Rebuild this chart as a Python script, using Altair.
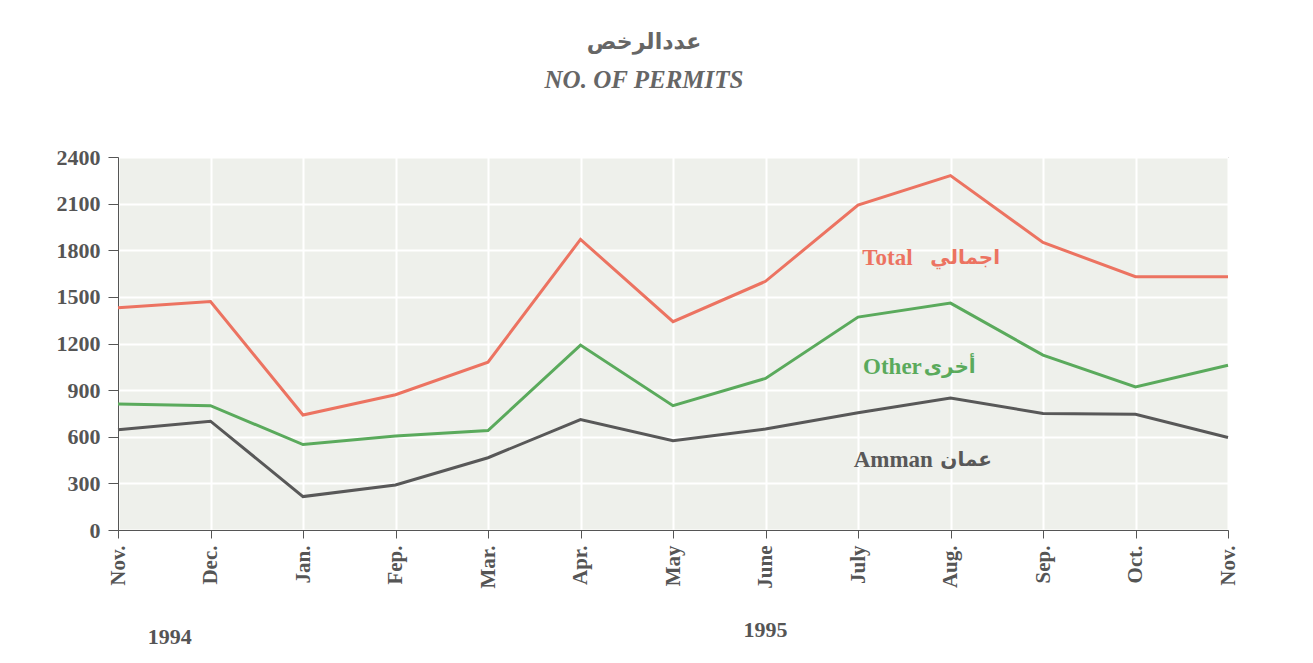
import altair as alt
import pandas as pd

months = ["Nov.", "Dec.", "Jan.", "Fep.", "Mar.", "Apr.", "May", "June",
          "July", "Aug.", "Sep.", "Oct.", "Nov."]
total = [1430, 1470, 740, 870, 1080, 1870, 1340, 1600, 2090, 2280, 1850, 1630, 1630]
other = [810, 800, 550, 605, 640, 1190, 800, 975, 1370, 1460, 1125, 920, 1060]
amman = [645, 700, 215, 290, 465, 710, 575, 650, 755, 850, 750, 745, 595]

series_names = ["Total", "Other", "Amman"]
series_colors = ["#ec7361", "#5aaa5c", "#585858"]

# series labels: English part (right-aligned) and Arabic part (left-aligned)
label_en = ["Total", "Other", "Amman"]
label_en_x = [8.59, 8.69, 8.81]
label_ar = ["اجمالي", "أخرى", "عمان"]
label_ar_x = [8.78, 8.71, 8.89]
label_y = [1750, 1049, 450]

year_texts = ["1994", "1995"]
year_x = [0.56, 7.0]
year_y = [-689, -644]

rows = []
for name, vals in zip(series_names, [total, other, amman]):
    for i, v in enumerate(vals):
        rows.append({"idx": i, "value": v, "series": name})
df = pd.DataFrame(rows)

lab_df = pd.DataFrame({"en": label_en, "ar": label_ar, "xen": label_en_x,
                       "xar": label_ar_x, "y": label_y, "series": series_names})
year_df = pd.DataFrame({"text": year_texts, "x": year_x, "y": year_y})

label_expr = "[" + ",".join("'" + m + "'" for m in months) + "][datum.value]"

xscale = alt.Scale(domain=[0, 12], nice=False, zero=False)
yscale = alt.Scale(domain=[0, 2400], nice=False)
cscale = alt.Scale(domain=series_names, range=series_colors)

lines = alt.Chart(df).mark_line(strokeWidth=3).encode(
    x=alt.X("idx:Q", scale=xscale,
            axis=alt.Axis(values=list(range(13)), labelExpr=label_expr, title=None,
                          labelAngle=-90, labelFont="Liberation Serif", labelFontWeight="bold",
                          labelFontSize=21, labelColor="#555", labelPadding=7,
                          tickSize=8, tickColor="#555", domainColor="#555",
                          grid=True, gridColor="white", gridWidth=2)),
    y=alt.Y("value:Q", scale=yscale,
            axis=alt.Axis(values=list(range(0, 2401, 300)), title=None, format="d",
                          labelFont="Liberation Serif", labelFontWeight="bold",
                          labelFontSize=22, labelColor="#555", labelPadding=8,
                          tickSize=10, tickColor="#555", domainColor="#555",
                          grid=True, gridColor="white", gridWidth=2)),
    color=alt.Color("series:N", scale=cscale, legend=None),
    detail="series:N",
)

labels_en = alt.Chart(lab_df).mark_text(font="Liberation Serif", fontWeight="bold",
                                        fontSize=23, align="right").encode(
    x=alt.X("xen:Q", scale=xscale),
    y=alt.Y("y:Q", scale=yscale),
    text="en:N",
    color=alt.Color("series:N", scale=cscale, legend=None),
)

labels_ar = alt.Chart(lab_df).mark_text(font="DejaVu Sans", fontWeight="bold",
                                        fontSize=20, align="left").encode(
    x=alt.X("xar:Q", scale=xscale),
    y=alt.Y("y:Q", scale=yscale),
    text="ar:N",
    color=alt.Color("series:N", scale=cscale, legend=None),
)

years = alt.Chart(year_df).mark_text(font="Liberation Serif", fontWeight="bold",
                                     fontSize=22, color="#555", align="center").encode(
    x=alt.X("x:Q", scale=xscale),
    y=alt.Y("y:Q", scale=yscale),
    text="text:N",
)

chart = alt.layer(lines, labels_en, labels_ar, years).properties(
    width=1110,
    height=373,
    title=alt.TitleParams(
        text="عددالرخص",
        subtitle="NO. OF PERMITS",
        font="DejaVu Sans",
        fontSize=22,
        fontWeight="bold",
        color="#666",
        subtitleFont="Liberation Serif",
        subtitleFontStyle="italic",
        subtitleFontWeight="bold",
        subtitleFontSize=25,
        subtitleColor="#666",
        subtitlePadding=14,
        anchor="middle",
        dx=-29,
        offset=52,
    ),
    padding={"left": 48, "top": 23, "right": 20, "bottom": 10},
).configure_view(
    fill="#eef0eb", stroke="#777", strokeWidth=1
)

chart.save("out.html", embed_options={"renderer": "svg", "actions": False})
